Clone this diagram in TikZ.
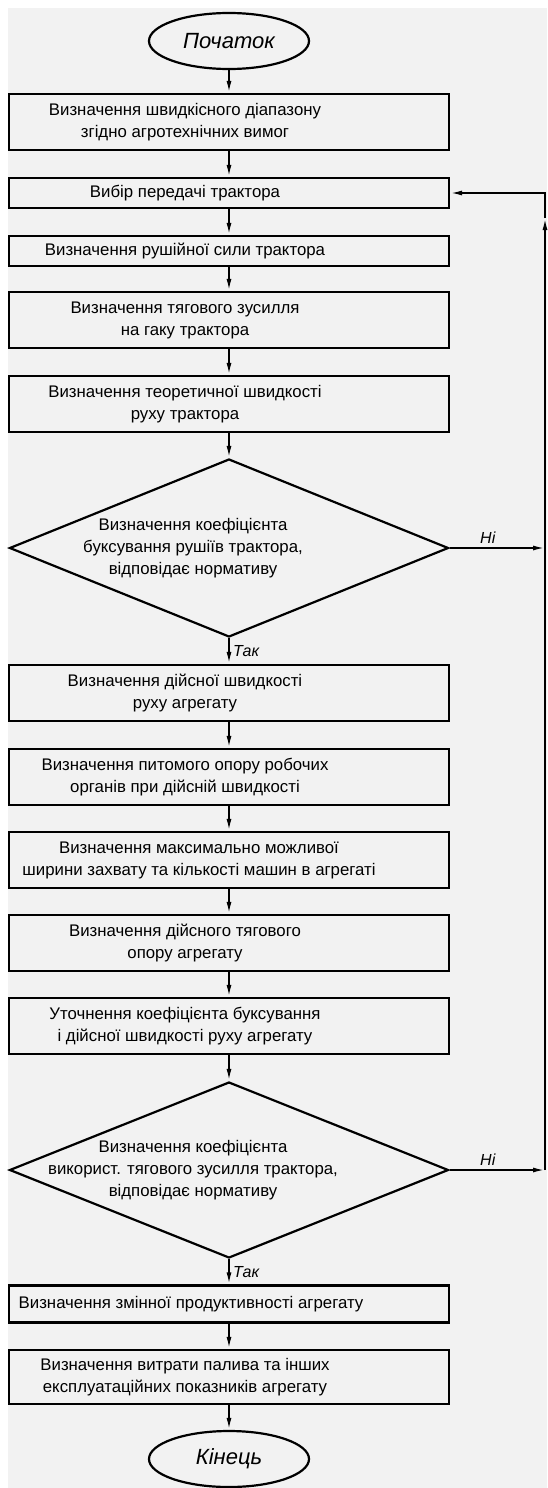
\documentclass[tikz,border=0pt]{standalone}
\usepackage{fontspec}
\setmainfont{Liberation Sans}
\usetikzlibrary{arrows.meta, shapes.geometric}

\begin{document}
\begin{tikzpicture}[x=1pt, y=-1pt,
		box/.style={draw, line width=2.2pt, minimum width=440, minimum height=56, inner sep=0pt},
		txt/.style={align=center, font=\fontsize{16.8}{22}\selectfont, xshift=-44},
		cond/.style={draw, diamond, line width=2.2pt, minimum width=439, minimum height=178, inner sep=0pt},
		term/.style={draw, ellipse, line width=2.2pt, minimum width=160, minimum height=56, inner sep=0pt, font=\itshape\fontsize{22}{25}\selectfont},
		arr/.style={line width=1.8pt, -{Latex[length=12pt, width=5pt]}},
		lbl/.style={font=\itshape\fontsize{16}{18}\selectfont}]
			\useasboundingbox (0,0) rectangle (547,1488);
			\fill[black!5] (8,8) rectangle (547,1488);
			% start and first block
			\node[term] (start) at (229,41) {Початок};
			\node[box, label={[txt]center:{Визначення швидкісного діапазону\\згідно агротехнічних вимог}}] (b1) at (229,122) {};
			\node[box, minimum height=30, label={[txt]center:{Вибір передачі трактора}}] (b2) at (229,193) {};
			\node[box, minimum height=30, label={[txt]center:{Визначення рушійної сили трактора}}] (b3) at (229,251) {};
			\node[box, label={[txt]center:{Визначення тягового зусилля\\на гаку трактора}}] (b4) at (229,320) {};
			\node[box, label={[txt]center:{Визначення теоретичної швидкості\\руху трактора}}] (b5) at (229,404) {};
			\node[cond, label={[txt,xshift=8]center:{Визначення коефіцієнта\\буксування рушіїв трактора,\\відповідає нормативу}}] (d1) at (229,548) {};
			% after first check
			\node[box, label={[txt]center:{Визначення дійсної швидкості\\руху агрегату}}] (b6) at (229,693) {};
			\node[box, label={[txt]center:{Визначення питомого опору робочих\\органів при дійсній швидкості}}] (b7) at (229,777) {};
			\node[box, label={[txt,xshift=14]center:{Визначення максимально можливої\\ширини захвату та кількості машин в агрегаті}}] (b8) at (229,860) {};
			\node[box, label={[txt]center:{Визначення дійсного тягового\\опору агрегату}}] (b9) at (229,943) {};
			\node[box, label={[txt]center:{Уточнення коефіцієнта буксування\\і дійсної швидкості руху агрегату}}] (b10) at (229,1026) {};
			\node[cond, minimum height=176, label={[txt,xshift=8]center:{Визначення коефіцієнта\\використ. тягового зусилля трактора,\\відповідає нормативу}}] (d2) at (229,1170) {};
			% output blocks
			\node[box, minimum height=37, label={[txt,xshift=6]center:{Визначення змінної продуктивності агрегату}}] (b11) at (229,1304) {};
			\node[box, minimum height=54, label={[txt]center:{Визначення витрати палива та інших\\експлуатаційних показників агрегату}}] (b12) at (229,1377) {};
			\node[term] (stop) at (229,1459) {Кінець};
			% main line
			\draw[arr] (start) -- (b1);
			\draw[arr] (b1) -- (b2);
			\draw[arr] (b2) -- (b3);
			\draw[arr] (b3) -- (b4);
			\draw[arr] (b4) -- (b5);
			\draw[arr] (b5) -- (d1);
			\draw[arr] (d1) -- node[lbl, right] (yes1) {Так} (b6);
			\draw[arr] (b6) -- (b7);
			\draw[arr] (b7) -- (b8);
			\draw[arr] (b8) -- (b9);
			\draw[arr] (b9) -- (b10);
			\draw[arr] (b10) -- (d2);
			\draw[arr] (d2) -- node[lbl, right] (yes2) {Так} (b11);
			\draw[arr] (b11) -- (b12);
			\draw[arr] (b12) -- (stop);
			% return loop
			\coordinate (r1) at (545,548);
			\coordinate (r2) at (545,1170);
			\coordinate (r3) at (545,218);
			\draw[arr] (d1.east) -- node[lbl, above, pos=0.4] (no1) {Ні} (r1);
			\draw[arr] (d2.east) -- node[lbl, above, pos=0.4] (no2) {Ні} (r2);
			\draw[line width=1.8pt] (r2) -- (r1);
			\draw[arr] (r1) -- (r3);
			\draw[arr] (r3) |- (b2.east);
		\end{tikzpicture}
\end{document}
